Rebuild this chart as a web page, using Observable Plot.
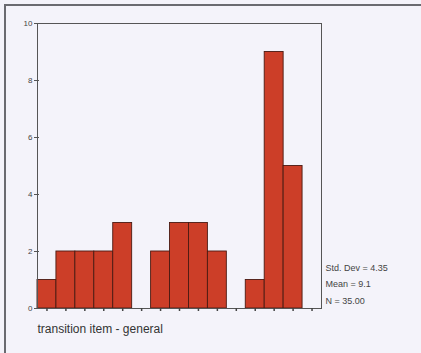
<!DOCTYPE html>
<html>
<head>
<meta charset="utf-8">
<script src="https://cdn.jsdelivr.net/npm/d3@7"></script>
<script src="https://cdn.jsdelivr.net/npm/@observablehq/plot@0.6"></script>
<style>
  html, body { margin: 0; padding: 0; background: #f4f3fa; }
  #wrap { position: relative; width: 421px; height: 353px; overflow: hidden; background: #f4f3fa; }
  #border { position: absolute; left: 4px; top: 4px; right: -10px; bottom: -10px; border-top: 2px solid #6a6a70; border-left: 2px solid #6a6a70; pointer-events: none; }
  #chart { position: absolute; left: 0; top: 0; }
</style>
</head>
<body>
<div id="wrap"><div id="chart"></div><div id="border"></div></div>
<script>
const binCenters = [1, 2, 3, 4, 5, 6, 7, 8, 9, 10, 11, 12, 13, 14, 15];
const counts = [1, 2, 2, 2, 3, 0, 2, 3, 3, 2, 0, 1, 9, 5, 0];
const yTicks = [0, 2, 4, 6, 8, 10];
const statLabels = ["Std. Dev = 4.35", "Mean = 9.1", "N = 35.00"];
const xLabel = "transition item - general";

const data = binCenters.map((c, i) => ({x1: c - 0.5, x2: c + 0.5, y: counts[i]})).filter(d => d.y > 0);
const statOffsets = [-38, -22, -5];

const chart = Plot.plot({
  width: 421,
  height: 353,
  marginLeft: 37,
  marginRight: 100,
  marginTop: 23,
  marginBottom: 45,
  style: {background: "transparent", fontFamily: "'Liberation Sans', Arial, sans-serif", color: "#333"},
  x: {domain: [0.5, 15.5], label: null},
  y: {domain: [0, 10], label: null},
  marks: [
    Plot.rectY(data, {x1: "x1", x2: "x2", y: "y", fill: "#cc3e28", stroke: "#4a1a12", strokeWidth: 0.9, inset: 0}),
    Plot.frame({stroke: "#555", strokeWidth: 1}),
    Plot.axisY(yTicks, {tickSize: 3, tickPadding: 2, fontSize: 8, stroke: "#555", fill: "#444", label: null}),
    Plot.tickY(yTicks, {y: d => d, insetRight: 282, stroke: "#555"}),
    Plot.axisX(binCenters, {tickSize: 3, tickFormat: () => "", stroke: "#444", strokeWidth: 1.5, label: null}),
    Plot.text([xLabel], {text: d => d, frameAnchor: "bottom-left", textAnchor: "start", dy: 24, fontSize: 12, fill: "#333"}),
    ...statLabels.map((s, i) => Plot.text([s], {text: d => d, frameAnchor: "bottom-right", textAnchor: "start", dx: 4, dy: statOffsets[i], fontSize: 9, fill: "#444"}))
  ]
});
document.getElementById("chart").appendChild(chart);
</script>
</body>
</html>
